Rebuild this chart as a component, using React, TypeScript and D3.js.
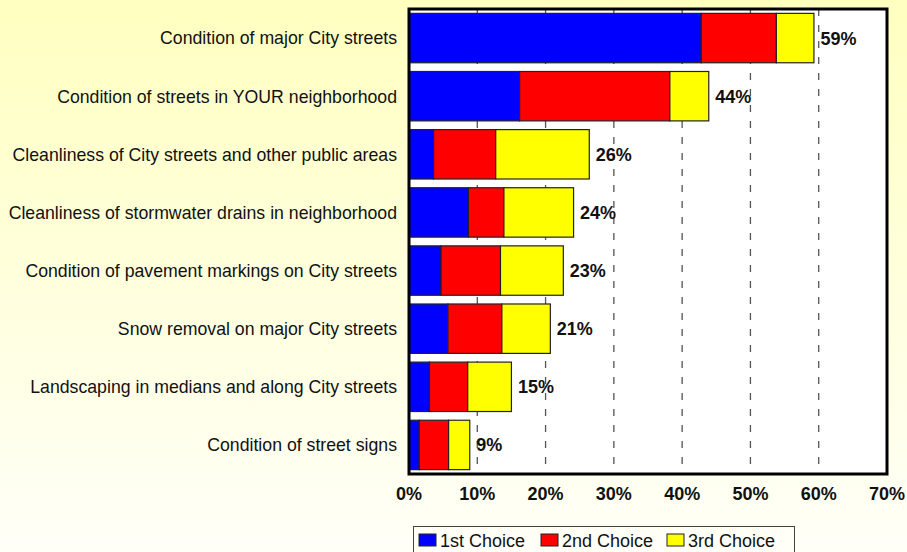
import React from "react";
import * as d3 from "d3";

const categories = [
  "Condition of major City streets",
  "Condition of streets in YOUR neighborhood",
  "Cleanliness of City streets and other public areas",
  "Cleanliness of stormwater drains in neighborhood",
  "Condition of pavement markings on City streets",
  "Snow removal on major City streets",
  "Landscaping in medians and along City streets",
  "Condition of street signs",
];
const firstChoice = [42.8, 16.2, 3.6, 8.7, 4.7, 5.7, 3.0, 1.5];
const secondChoice = [11.0, 22.0, 9.1, 5.2, 8.7, 7.9, 5.6, 4.3];
const thirdChoice = [5.5, 5.7, 13.7, 10.2, 9.2, 7.1, 6.4, 3.1];
const seriesNames = ["1st Choice", "2nd Choice", "3rd Choice"];
const seriesColors = ["#0000FF", "#FF0000", "#FFFF00"];
const xTicks = [0, 10, 20, 30, 40, 50, 60, 70];

const W = 907;
const H = 552;
const FONT = "'Liberation Sans', Arial, Helvetica, sans-serif";

export default function App() {
  const left = 409;
  const right = 887;
  const top = 9;
  const bottom = 474;

  const x = d3.scaleLinear().domain([0, 70]).range([left, right]);
  const y = d3
    .scaleBand<string>()
    .domain(categories)
    .range([top, bottom])
    .paddingInner(0.15)
    .paddingOuter(0.075);

  const rows = categories.map((c, i) => ({
    cat: c,
    "1st Choice": firstChoice[i],
    "2nd Choice": secondChoice[i],
    "3rd Choice": thirdChoice[i],
  }));
  const stack = d3.stack<any>().keys(seriesNames)(rows);
  const totals = categories.map(
    (_, i) => firstChoice[i] + secondChoice[i] + thirdChoice[i]
  );

  const legendX = [419, 541, 667];

  return (
    <svg
      width={W}
      height={H}
      style={{ position: "absolute", left: 0, top: 0, display: "block" }}
    >
      <defs>
        <linearGradient id="bg" x1="0" y1="0" x2="0" y2="1">
          <stop offset="0%" stopColor="#FFFFC0" />
          <stop offset="100%" stopColor="#FFFFF8" />
        </linearGradient>
      </defs>
      <rect x={0} y={0} width={W} height={H} fill="url(#bg)" />

      {/* plot area */}
      <rect x={left} y={top} width={right - left} height={bottom - top} fill="#FFFFFF" />

      {/* gridlines */}
      {xTicks
        .filter((t) => t > 0 && t < 70)
        .map((t) => (
          <line
            key={"g" + t}
            x1={x(t)}
            x2={x(t)}
            y1={top}
            y2={bottom}
            stroke="#555"
            strokeWidth={1.3}
            strokeDasharray="7,9"
          />
        ))}

      {/* bars */}
      {stack.map((s, si) =>
        s.map((d, i) => (
          <rect
            key={si + "-" + i}
            x={x(d[0])}
            y={y(categories[i])}
            width={x(d[1]) - x(d[0])}
            height={y.bandwidth()}
            fill={seriesColors[si]}
            stroke="#222"
            strokeWidth={1.2}
          />
        ))
      )}

      {/* value labels */}
      {totals.map((t, i) => (
        <text
          key={"v" + i}
          x={x(t) + 6.5}
          y={(y(categories[i]) as number) + y.bandwidth() / 2}
          dy="0.36em"
          fontFamily={FONT}
          fontWeight="bold"
          fontSize={18}
          fill="#111"
        >
          {Math.round(t) + "%"}
        </text>
      ))}

      {/* category labels */}
      {categories.map((c) => (
        <text
          key={"c" + c}
          x={397}
          y={(y(c) as number) + y.bandwidth() / 2}
          dy="0.36em"
          textAnchor="end"
          fontFamily={FONT}
          fontSize={17.7}
          fill="#111"
        >
          {c}
        </text>
      ))}

      {/* plot border */}
      <rect
        x={left}
        y={top}
        width={right - left}
        height={bottom - top}
        fill="none"
        stroke="#000"
        strokeWidth={3}
      />

      {/* x tick labels */}
      {xTicks.map((t) => (
        <text
          key={"t" + t}
          x={x(t)}
          y={500}
          textAnchor="middle"
          fontFamily={FONT}
          fontWeight="bold"
          fontSize={18}
          fill="#111"
        >
          {t + "%"}
        </text>
      ))}

      {/* legend */}
      <rect x={413.5} y={526.5} width={381} height={40} fill="none" stroke="#444" strokeWidth={1} />
      {seriesNames.map((n, i) => (
        <g key={"l" + n}>
          <rect
            x={legendX[i]}
            y={534}
            width={17}
            height={12}
            fill={seriesColors[i]}
            stroke="#222"
            strokeWidth={1}
          />
          <text
            x={legendX[i] + 21}
            y={547}
            fontFamily={FONT}
            fontSize={18}
            fill="#111"
          >
            {n}
          </text>
        </g>
      ))}
    </svg>
  );
}
